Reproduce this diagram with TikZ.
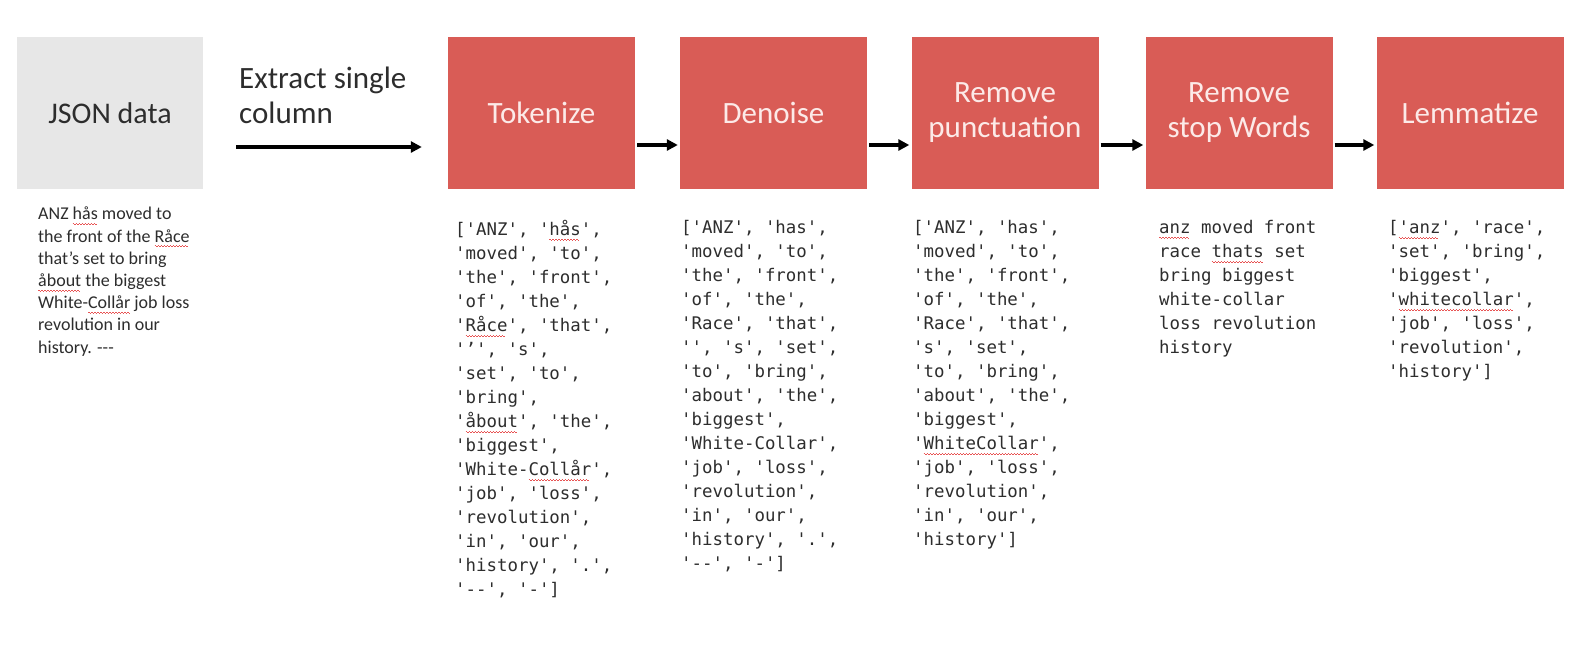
\documentclass[tikz,border=0pt]{standalone}
\usepackage{fontspec}
\setmainfont{Carlito}
\newfontfamily\mono{DejaVu Sans Mono}
\usetikzlibrary{arrows.meta}
\definecolor{boxred}{RGB}{217,92,86}
\definecolor{boxgray}{RGB}{231,231,231}
\definecolor{titlewhite}{RGB}{252,234,232}
\definecolor{txt}{RGB}{45,45,45}
\definecolor{squig}{RGB}{232,84,84}
\newcommand\sqg[1]{{\setbox0\hbox{#1}\rlap{\textcolor{squig}{\leaders\hbox{\rule[-4pt]{1.5pt}{0.9pt}\rule[-5.2pt]{1.5pt}{0.9pt}}\hskip\wd0}}\box0}}
\begin{document}
\begin{tikzpicture}[x=1pt,y=-1pt,
  stepbox/.style={rectangle, fill=boxred, minimum width=187pt, minimum height=152pt,
    inner sep=0pt, align=center, text=titlewhite,
    font=\fontsize{31}{35}\selectfont},
  srcbox/.style={rectangle, fill=boxgray, minimum width=186pt, minimum height=152pt,
    inner sep=0pt, align=center, text=txt, font=\fontsize{30}{35}\selectfont},
  mlist/.style={anchor=north west, inner sep=0pt, align=left, text=txt,
    font=\mono\fontsize{17.4}{24}\selectfont},
  plain/.style={anchor=north west, inner sep=0pt, align=left, text=txt,
    font=\fontsize{18}{22.2}\selectfont},
  arr/.style={line width=3.5pt, -{Triangle[length=11pt,width=11pt]}}]
\useasboundingbox (0,0) rectangle (1595,656);
\fill[white] (0,0) rectangle (1595,656);

\node[srcbox] (json) at (110,113) {JSON data};
\node[stepbox] (tok) at (541.5,113) {Tokenize};
\node[stepbox] (den) at (773.5,113) {Denoise};
\node[stepbox] (pun) at (1005,113) {Remove\\punctuation};
\node[stepbox] (stp) at (1239,113) {Remove\\stop Words};
\node[stepbox] (lem) at (1470,113) {Lemmatize};

\node[anchor=west, inner sep=0pt, align=left, text=txt,
  font=\fontsize{31}{35}\selectfont] (lbl) at (239,95) {Extract single\\column};

\draw[arr] ([xshift=33pt,yshift=-34pt]json.east) -- ([xshift=-26pt,yshift=-34pt]tok.west);
\draw[arr] ([xshift=2pt,yshift=-32pt]tok.east) -- ([xshift=-2pt,yshift=-32pt]den.west);
\draw[arr] ([xshift=2pt,yshift=-32pt]den.east) -- ([xshift=-2pt,yshift=-32pt]pun.west);
\draw[arr] ([xshift=2pt,yshift=-32pt]pun.east) -- ([xshift=-2pt,yshift=-32pt]stp.west);
\draw[arr] ([xshift=2pt,yshift=-32pt]stp.east) -- ([xshift=-2pt,yshift=-32pt]lem.west);

\node[plain] (jtxt) at (38,207) {ANZ \sqg{hås} moved to\\
the front of the \sqg{Råce}\\
that’s set to bring\\
\sqg{åbout} the biggest\\
White-\sqg{Collår} job loss\\
revolution in our\\
history. -{}-{}-};

\node[mlist] (ttxt) at (455,220) {['ANZ', '\sqg{hås}',\\
'moved', 'to',\\
'the', 'front',\\
'of', 'the',\\
'\sqg{Råce}', 'that',\\
'’', 's',\\
'set', 'to',\\
'bring',\\
'\sqg{åbout}', 'the',\\
'biggest',\\
'White-\sqg{Collår}',\\
'job', 'loss',\\
'revolution',\\
'in', 'our',\\
'history', '.',\\
'--', '-']};

\node[mlist] (dtxt) at (681,220) {['ANZ', 'has',\\
'moved', 'to',\\
'the', 'front',\\
'of', 'the',\\
'Race', 'that',\\
'', 's', 'set',\\
'to', 'bring',\\
'about', 'the',\\
'biggest',\\
'White-Collar',\\
'job', 'loss',\\
'revolution',\\
'in', 'our',\\
'history', '.',\\
'--', '-']};

\node[mlist] (ptxt) at (913,220) {['ANZ', 'has',\\
'moved', 'to',\\
'the', 'front',\\
'of', 'the',\\
'Race', 'that',\\
's', 'set',\\
'to', 'bring',\\
'about', 'the',\\
'biggest',\\
'\sqg{WhiteCollar}',\\
'job', 'loss',\\
'revolution',\\
'in', 'our',\\
'history']};

\node[mlist] (stxt) at (1159,220) {\sqg{anz} moved front\\
race \sqg{thats} set\\
bring biggest\\
white-collar\\
loss revolution\\
history};

\node[mlist] (ltxt) at (1388,220) {[\sqg{'anz}', 'race',\\
'set', 'bring',\\
'biggest',\\
'\sqg{whitecollar}',\\
'job', 'loss',\\
'revolution',\\
'history']};
\end{tikzpicture}
\end{document}
